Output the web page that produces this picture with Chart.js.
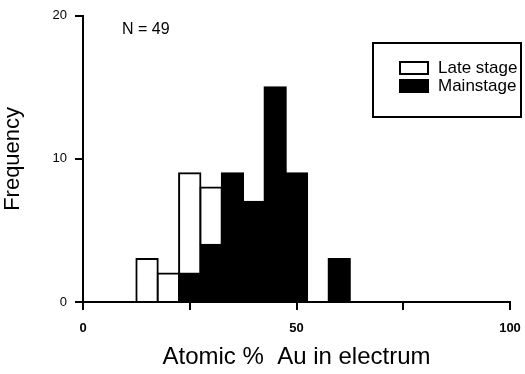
<!DOCTYPE html>
<html>
<head>
<meta charset="utf-8">
<script src="https://cdn.jsdelivr.net/npm/chart.js@4"></script>
<style>
  html, body { margin: 0; padding: 0; background: #fff; }
  #wrap { width: 525px; height: 374px; position: relative; }
</style>
</head>
<body>
<div id="wrap"><canvas id="c" width="525" height="374"></canvas></div>
<script>
// Histogram bins (centre of 5 % wide bins, atomic % Au)
const binCenters = [15, 20, 25, 30, 35, 40, 45, 50, 55, 60];
// Mainstage counts per bin
const mainstage = [0, 0, 2, 4, 9, 7, 15, 9, 0, 3];
// Late stage counts per bin (stacked above mainstage)
const lateStage = [3, 2, 7, 4, 0, 0, 0, 0, 0, 0];
const seriesNames = ['Late stage', 'Mainstage'];
const xTicks = [0, 25, 50, 75, 100];
const xTickLabels = ['0', '', '50', '', '100'];
const yTicks = [0, 10, 20];
const sampleNote = 'N = 49';
const xTitle = 'Atomic %  Au in electrum';
const yTitle = 'Frequency';

const FONT = "'Liberation Sans', Arial, Helvetica, sans-serif";

function toPoints(vals) {
  return binCenters.map((x, i) => ({ x: x, y: vals[i] === 0 ? null : vals[i] }));
}

const overlay = {
  id: 'overlay',
  afterDraw(chart) {
    const ctx = chart.ctx;
    ctx.save();
    ctx.fillStyle = '#000';
    ctx.font = '16px ' + FONT;
    ctx.textBaseline = 'middle';
    ctx.textAlign = 'left';
    ctx.fillText(sampleNote, 122, 30);
    ctx.lineWidth = 2;
    ctx.strokeStyle = '#000';
    ctx.strokeRect(373, 43, 148, 74);
    const ds = chart.data.datasets;
    const items = [
      { label: ds[1].label, fill: ds[1].backgroundColor, y: 68 },
      { label: ds[0].label, fill: ds[0].backgroundColor, y: 86 }
    ];
    ctx.font = '17px ' + FONT;
    items.forEach(it => {
      ctx.fillStyle = it.fill;
      ctx.fillRect(400, it.y - 6, 28, 12);
      ctx.strokeRect(400, it.y - 6, 28, 12);
      ctx.fillStyle = '#000';
      ctx.fillText(it.label, 438, it.y);
    });
    ctx.restore();
  }
};

new Chart(document.getElementById('c'), {
  type: 'bar',
  data: {
    datasets: [
      {
        label: seriesNames[1],
        data: toPoints(mainstage),
        backgroundColor: '#000',
        borderColor: '#000',
        borderWidth: 2,
        inflateAmount: 1,
        barPercentage: 1,
        categoryPercentage: 1
      },
      {
        label: seriesNames[0],
        data: toPoints(lateStage),
        backgroundColor: '#fff',
        borderColor: '#000',
        borderWidth: 2,
        inflateAmount: 1,
        barPercentage: 1,
        categoryPercentage: 1
      }
    ]
  },
  options: {
    responsive: false,
    animation: false,
    layout: { padding: { left: 0, right: 15, top: 15, bottom: 0 } },
    plugins: { legend: { display: false }, tooltip: { enabled: false } },
    scales: {
      x: {
        type: 'linear',
        stacked: true,
        offset: false,
        min: 0,
        max: 100,
        afterFit(scale) { scale.height = 72; scale.paddingRight = 0; },
        afterBuildTicks(scale) { scale.ticks = xTicks.map(v => ({ value: v })); },
        ticks: {
          color: '#000',
          font: { family: FONT, size: 13, weight: 'bold' },
          padding: 11,
          maxRotation: 0,
          autoSkip: false,
          callback: (v) => { const i = xTicks.indexOf(v); return i >= 0 ? xTickLabels[i] : ''; }
        },
        grid: { display: true, offset: false, drawOnChartArea: false, drawTicks: true, tickLength: 8, color: '#000', lineWidth: 2 },
        border: { display: true, color: '#000', width: 2 },
        title: { display: true, text: xTitle, color: '#000', font: { family: FONT, size: 24 }, padding: { top: 0, bottom: 2 } }
      },
      y: {
        stacked: true,
        min: 0,
        max: 20,
        afterFit(scale) { scale.width = 83; },
        afterBuildTicks(scale) { scale.ticks = yTicks.map(v => ({ value: v })); },
        ticks: {
          color: '#000',
          font: { family: FONT, size: 13 },
          padding: 8
        },
        grid: { display: true, drawOnChartArea: false, drawTicks: true, tickLength: 8, color: '#000', lineWidth: 2 },
        border: { display: true, color: '#000', width: 2 },
        title: { display: true, text: yTitle, color: '#000', font: { family: FONT, size: 22 }, padding: { top: 0, bottom: 0 } }
      }
    }
  },
  plugins: [overlay]
});
</script>
</body>
</html>
